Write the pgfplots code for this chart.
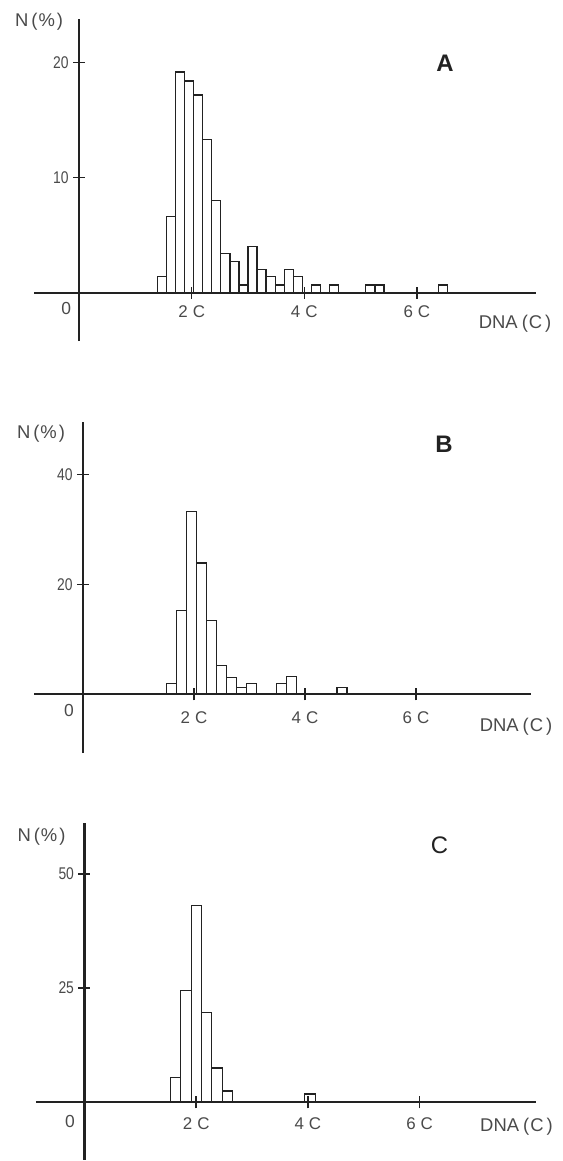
\documentclass[border=0pt]{standalone}
\usepackage{fontspec}
\setmainfont{Liberation Sans}
\usepackage{graphicx}
\usepackage{pgfplots}
\pgfplotsset{compat=1.18}
\definecolor{ink}{HTML}{222222}
\definecolor{txt}{HTML}{4A4A4A}

\newcommand{\yl}[1]{\scalebox{0.82}[1]{#1}}
\newcommand{\cl}[1]{#1\hspace{5bp}C}
\pgfplotsset{
  histo/.style={
    axis lines=middle,
    axis on top=true,
    axis line style={-, line width=2.3bp, ink},
    clip=false,
    xtick={2,4,6},
    xticklabels={\cl{2},\cl{4},\cl{6}},
    xtick align=center,
    ytick align=center,
    major tick length=12bp,
    tick style={line width=1.5bp, ink},
    every tick label/.append style={font=\fontsize{17}{20}\selectfont, text=txt},
    yticklabel style={xshift=-1bp},
  },
}
\tikzset{
  hbar/.style={ybar, bar shift=0pt, draw=ink, fill=white, line width=1.3bp},
  lab/.style={font=\fontsize{18.5}{22}\selectfont, text=txt},
  zlab/.style={font=\fontsize{17.5}{20}\selectfont, text=txt},
  plab/.style={font=\fontsize{24}{28}\selectfont\bfseries, text=ink},
}
\newcommand{\dna}{DNA\hspace{4bp}(\hspace{1bp}C\hspace{3bp})}
\newcommand{\npct}{N\hspace{3bp}(\hspace{1bp}\%\hspace{2bp})}

\begin{document}
\begin{tikzpicture}
\path[use as bounding box] (0,0) rectangle (563bp,-1161bp);

% ---------------- Panel A ----------------
\begin{axis}[histo,
  x=56.3bp, y=11.5bp,
  xmin=-0.80, xmax=8.11, ymin=-4.2, ymax=23.8,
  at={(34.06bp,-341.0bp)}, anchor=south west,
  ytick={10,20}, yticklabels={\yl{10},\yl{20}},
  xticklabel style={yshift=-3bp}]
\addplot[hbar, bar width=0.161] coordinates {
(1.4705,1.4) (1.6315,6.6) (1.7925,19.2) (1.9535,18.4) (2.1145,17.2)
(2.2755,13.3) (2.4365,8.0) (2.5975,3.4) (2.7585,2.7) (2.9195,0.67)
(3.0805,4.0) (3.2415,2.0) (3.4025,1.4) (3.5635,0.67) (3.7245,2.0)
(3.8855,1.4) (4.2075,0.67) (4.5295,0.67) (5.1735,0.67) (5.3345,0.67)
(6.4615,0.67)};
\node[lab] at ([xshift=-40bp,yshift=271bp]axis cs:0,0) {\npct};
\node[plab] at ([xshift=366bp,yshift=229bp]axis cs:0,0) {A};
\node[zlab] at ([xshift=-13bp,yshift=-16bp]axis cs:0,0) {0};
\node[lab] at ([xshift=436bp,yshift=-31bp]axis cs:0,0) {\dna};
\end{axis}

% ---------------- Panel B ----------------
\begin{axis}[histo,
  x=55.5bp, y=5.5bp,
  xmin=-0.88, xmax=8.08, ymin=-10.7, ymax=49.5,
  at={(34.16bp,-753.15bp)}, anchor=south west,
  ytick={20,40}, yticklabels={\yl{20},\yl{40}},
  xticklabel style={yshift=-8bp}]
\addplot[hbar, bar width=0.181] coordinates {
(1.5905,2.0) (1.7715,15.3) (1.9525,33.3) (2.1335,23.9) (2.3145,13.4)
(2.4955,5.2) (2.6765,3.1) (2.8575,1.2) (3.0385,2.0) (3.5815,2.0)
(3.7625,3.3) (4.6675,1.3)};
\node[lab] at ([xshift=-42bp,yshift=261bp]axis cs:0,0) {\npct};
\node[plab] at ([xshift=361bp,yshift=250bp]axis cs:0,0) {B};
\node[zlab] at ([xshift=-14bp,yshift=-16bp]axis cs:0,0) {0};
\node[lab] at ([xshift=433bp,yshift=-32bp]axis cs:0,0) {\dna};
\end{axis}

% ---------------- Panel C ----------------
\begin{axis}[histo,
  x=55.85bp, y=4.57bp,
  xmin=-0.87, xmax=8.09, ymin=-12.6, ymax=61.2,
  at={(35.9bp,-1159.9bp)}, anchor=south west,
  ytick={25,50}, yticklabels={\yl{25},\yl{50}},
  xticklabel style={yshift=-6bp}]
\addplot[hbar, bar width=0.185] coordinates {
(1.6325,5.5) (1.8175,24.5) (2.0025,43.1) (2.1875,19.7) (2.3725,7.5)
(2.5575,2.5) (4.0375,1.8)};
\node[lab] at ([xshift=-43bp,yshift=266bp]axis cs:0,0) {\npct};
\node[plab, font=\fontsize{24}{28}\selectfont] at ([xshift=355bp,yshift=257bp]axis cs:0,0) {C};
\node[zlab] at ([xshift=-14.5bp,yshift=-19bp]axis cs:0,0) {0};
\node[lab] at ([xshift=432bp,yshift=-24bp]axis cs:0,0) {\dna};
\end{axis}
\end{tikzpicture}
\end{document}
